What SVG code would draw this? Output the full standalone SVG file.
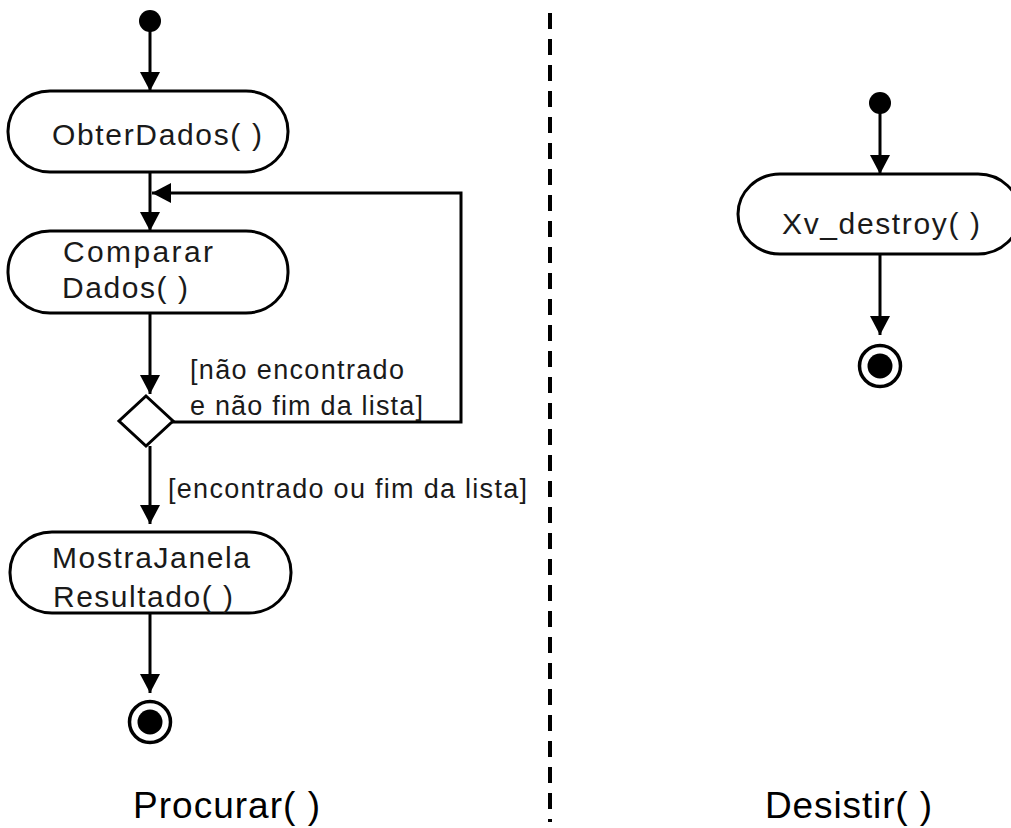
<svg xmlns="http://www.w3.org/2000/svg" width="1011" height="828" viewBox="0 0 1011 828">
<style>
.node{fill:#fff;stroke:#000;stroke-width:3}
.lbl{font-family:"Liberation Sans",Arial,sans-serif;font-size:30px;fill:#1a1a1a}
.guard{font-family:"Liberation Sans",Arial,sans-serif;font-size:27px;fill:#1a1a1a}
.title{font-family:"Liberation Sans",Arial,sans-serif;font-size:37px;fill:#000}
.edge{fill:none;stroke:#000;stroke-width:3}
</style>
<defs>
<marker id="arr" markerUnits="userSpaceOnUse" markerWidth="20" markerHeight="20" refX="19" refY="10" orient="auto" viewBox="0 0 20 20">
<path d="M0,0 L19,10 L0,20 z" fill="#000"/>
</marker>
</defs>
<rect width="1011" height="828" fill="#fff"/>

<g id="connectors">
<line class="edge" x1="150" y1="21" x2="150" y2="91" marker-end="url(#arr)"/>
<line class="edge" x1="150" y1="172" x2="150" y2="231" marker-end="url(#arr)"/>
<polyline class="edge" points="172,422 461,422 461,193 152,193" marker-end="url(#arr)"/>
<line class="edge" x1="150" y1="313" x2="150" y2="394" marker-end="url(#arr)"/>
<line class="edge" x1="150" y1="446" x2="150" y2="524" marker-end="url(#arr)"/>
<line class="edge" x1="150" y1="613" x2="150" y2="693" marker-end="url(#arr)"/>
<line class="edge" x1="880" y1="103" x2="880" y2="174" marker-end="url(#arr)"/>
<line class="edge" x1="880" y1="254" x2="880" y2="335" marker-end="url(#arr)"/>
<text class="guard" x="190" y="379" textLength="214" lengthAdjust="spacing">[não encontrado</text>
<text class="guard" x="190" y="415" textLength="233" lengthAdjust="spacing">e não fim da lista]</text>
<text class="guard" x="168" y="498" textLength="359" lengthAdjust="spacing">[encontrado ou fim da lista]</text>
</g>

<g id="swimlane-divider">
<line x1="550" y1="13" x2="550" y2="822" stroke="#000" stroke-width="4" stroke-dasharray="16 10"/>
</g>

<g id="start1"><circle cx="150" cy="21" r="11" fill="#000"/></g>

<g id="obterDados">
<rect class="node" x="8" y="91" width="280" height="81" rx="42" ry="40"/>
<text class="lbl" x="52" y="145" textLength="210" lengthAdjust="spacing">ObterDados( )</text>
</g>

<g id="compararDados">
<rect class="node" x="8" y="231" width="280" height="82" rx="42" ry="40"/>
<text class="lbl" x="63" y="262" textLength="150" lengthAdjust="spacing">Comparar</text>
<text class="lbl" x="62" y="298" textLength="126" lengthAdjust="spacing">Dados( )</text>
</g>

<g id="decision">
<polygon class="node" points="146,396 173,421 146,446 119,421"/>
</g>

<g id="mostraJanela">
<rect class="node" x="10" y="532" width="281" height="81" rx="42" ry="40"/>
<text class="lbl" x="52" y="568" textLength="198" lengthAdjust="spacing">MostraJanela</text>
<text class="lbl" x="53" y="607" textLength="180" lengthAdjust="spacing">Resultado( )</text>
</g>

<g id="end1">
<circle cx="150" cy="722" r="20.5" fill="#fff" stroke="#000" stroke-width="3.5"/>
<circle cx="150" cy="722" r="12.5" fill="#000"/>
</g>

<g id="start2"><circle cx="880" cy="103" r="11" fill="#000"/></g>

<g id="xvDestroy">
<rect class="node" x="738" y="174" width="282" height="80" rx="42" ry="40"/>
<text class="lbl" x="782" y="234" textLength="198" lengthAdjust="spacing">Xv_destroy( )</text>
</g>

<g id="end2">
<circle cx="880" cy="366" r="20.5" fill="#fff" stroke="#000" stroke-width="3.5"/>
<circle cx="880" cy="366" r="12.5" fill="#000"/>
</g>

<text class="title" x="133" y="818" textLength="187" lengthAdjust="spacing">Procurar( )</text>
<text class="title" x="765" y="818" textLength="167" lengthAdjust="spacing">Desistir( )</text>
</svg>
